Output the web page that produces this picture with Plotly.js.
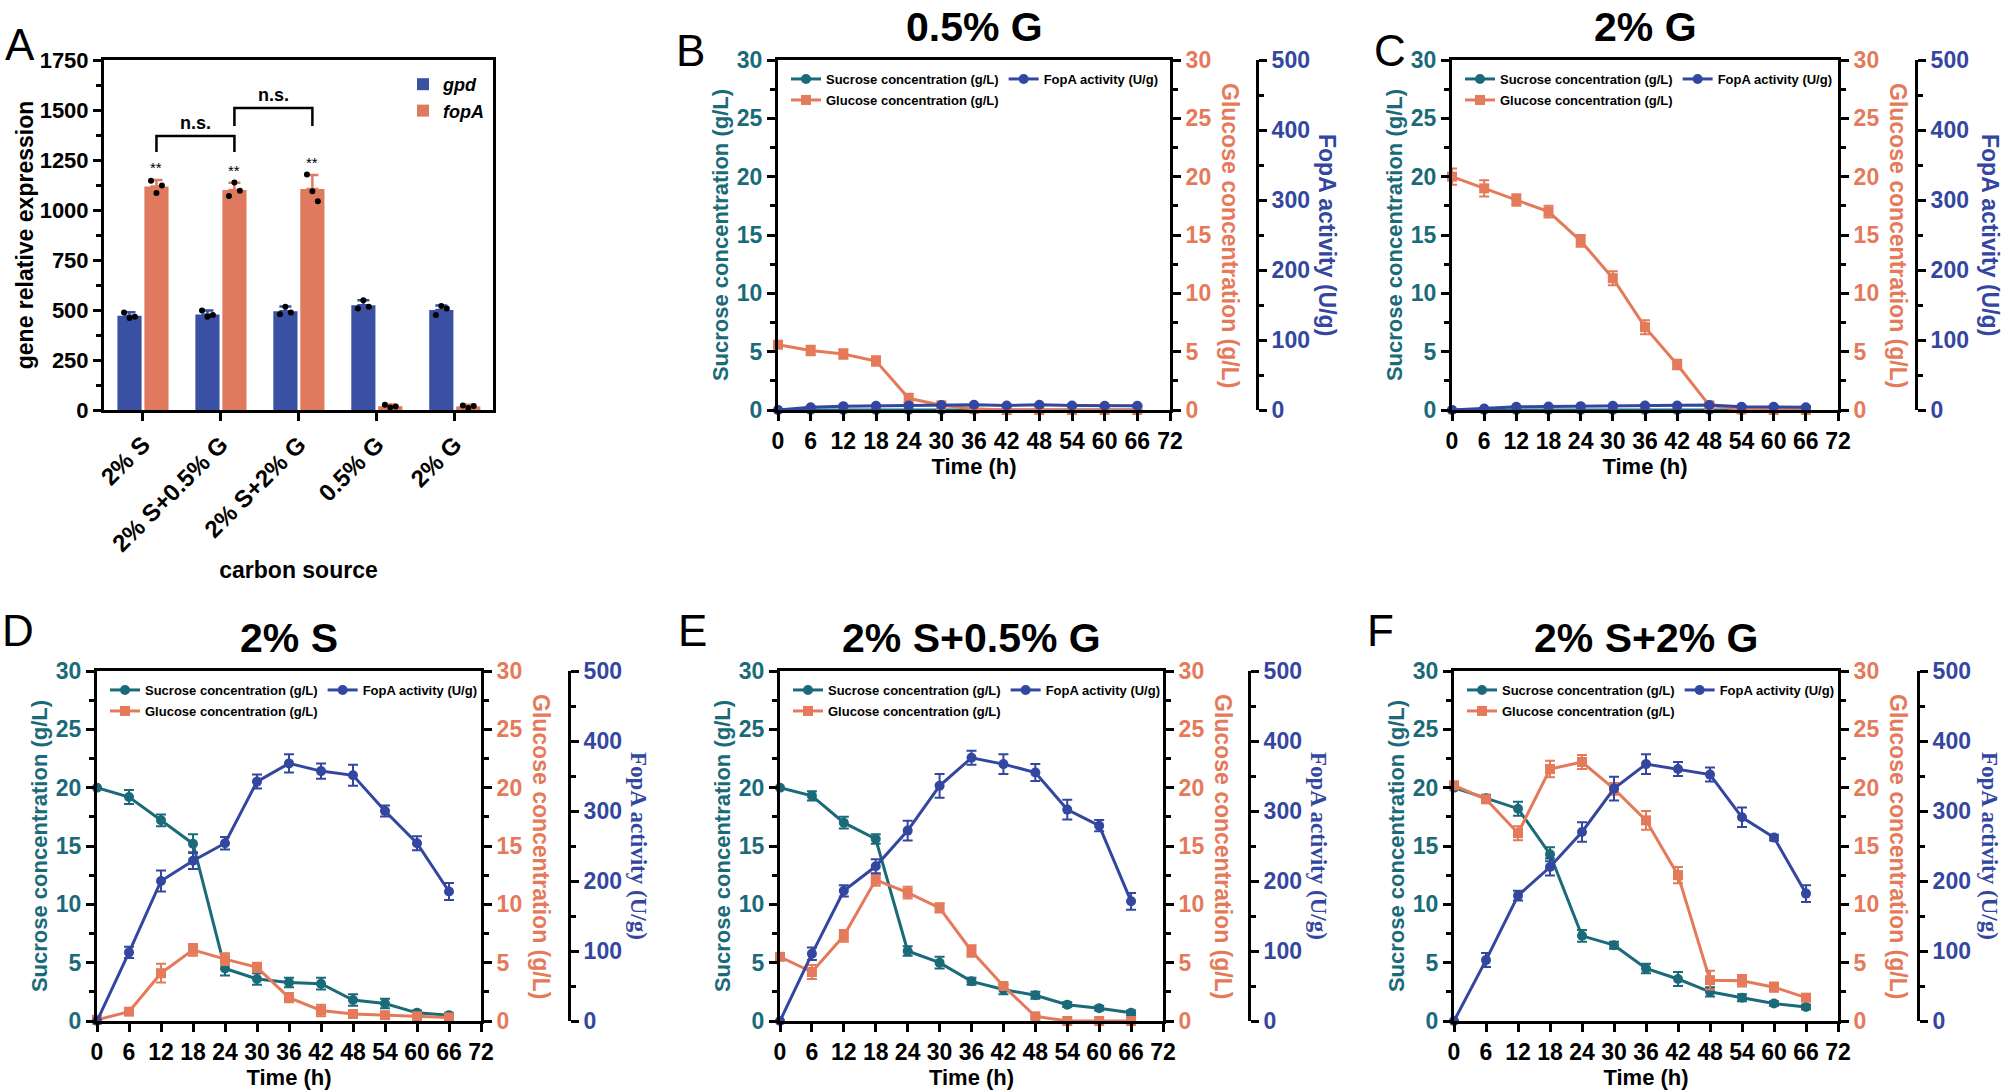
<!DOCTYPE html>
<html>
<head>
<meta charset="utf-8">
<script src="https://cdn.plot.ly/plotly-3.0.1.min.js"></script>
<style>
html, body { margin: 0; padding: 0; background: #ffffff; }
#fig { width: 2007px; height: 1091px; }
</style>
</head>
<body>
<div id="fig"></div>
<script>
// ===================== DATA =====================
// Panel A: gene relative expression by carbon source
const carbonSources = ['2% S', '2% S+0.5% G', '2% S+2% G', '0.5% G', '2% G'];
const gpdMean = [471, 478, 494, 524, 500];
const gpdSD = [18, 20, 23, 25, 22];
const fopAMean = [1118, 1100, 1105, 19, 18];
const fopASD = [32, 36, 70, 8, 8];
const gpdReplicates = [[488, 460, 466], [497, 466, 475], [479, 516, 488], [508, 549, 516], [475, 520, 507]];
const fopAReplicates = [[1146, 1085, 1122], [1070, 1137, 1096], [1177, 1094, 1044], [26, 13, 18], [23, 10, 20]];
const significanceLabels = ['**', '**', '**', '', ''];
const nsPairs = [[0, 1], [1, 2]];
const nsBracketTop = [1370, 1510];
const nsBracketBottom = [1290, 1420];

// Time course panels
const timeH = [0, 6, 12, 18, 24, 30, 36, 42, 48, 54, 60, 66];
const timeTicks = [0, 6, 12, 18, 24, 30, 36, 42, 48, 54, 60, 66, 72];

// B: 0.5% G
const sucroseB = [0, 0, 0, 0, 0, 0, 0, 0, 0, 0, 0, 0];
const sucroseErrB = [0, 0, 0, 0, 0, 0, 0, 0, 0, 0, 0, 0];
const glucoseB = [5.6, 5.1, 4.8, 4.2, 1.0, 0.4, 0.1, 0, 0, 0, 0, 0];
const glucoseErrB = [0.2, 0.4, 0.4, 0.4, 0.4, 0.1, 0, 0, 0, 0, 0, 0];
const fopAB = [0, 4, 5.5, 6, 6.5, 7, 7.5, 6.5, 7.5, 6.5, 6, 6];
const fopAErrB = [0, 1, 1, 1, 1, 1, 1, 1, 1, 1, 1, 1];

// C: 2% G
const sucroseC = [0, 0, 0, 0, 0, 0, 0, 0, 0, 0, 0, 0];
const sucroseErrC = [0, 0, 0, 0, 0, 0, 0, 0, 0, 0, 0, 0];
const glucoseC = [20.0, 19.0, 18.0, 17.0, 14.5, 11.3, 7.1, 3.9, 0.4, 0.05, 0, 0];
const glucoseErrC = [0.7, 0.7, 0.5, 0.5, 0.5, 0.6, 0.6, 0.4, 0.2, 0, 0, 0];
const fopAC = [0, 2, 4.5, 5, 5.5, 6, 6.5, 6.5, 7, 4.5, 4.5, 4];
const fopAErrC = [0, 1, 1, 1, 1, 1, 1, 1, 1, 1, 1, 1];

// D: 2% S
const sucroseD = [20.0, 19.2, 17.2, 15.2, 4.5, 3.6, 3.3, 3.2, 1.8, 1.5, 0.7, 0.5];
const sucroseErrD = [0, 0.6, 0.5, 0.8, 0.6, 0.5, 0.4, 0.5, 0.5, 0.4, 0.2, 0.2];
const glucoseD = [0.1, 0.8, 4.1, 6.1, 5.3, 4.6, 2.0, 0.9, 0.6, 0.5, 0.4, 0.3];
const glucoseErrD = [0.1, 0.1, 0.8, 0.5, 0.5, 0.4, 0.4, 0.5, 0.2, 0.1, 0.1, 0.1];
const fopAD = [0, 98, 200, 229, 254, 342, 368, 357, 351, 300, 254, 185];
const fopAErrD = [0, 8, 15, 12, 9, 10, 13, 11, 15, 8, 10, 12];

// E: 2% S+0.5% G
const sucroseE = [20.0, 19.3, 17.0, 15.6, 6.0, 5.0, 3.4, 2.7, 2.2, 1.4, 1.1, 0.7];
const sucroseErrE = [0, 0.4, 0.5, 0.4, 0.4, 0.5, 0.3, 0.4, 0.3, 0.2, 0.2, 0.2];
const glucoseE = [5.5, 4.2, 7.3, 12.1, 11.0, 9.7, 6.0, 3.0, 0.4, 0, 0, 0];
const glucoseErrE = [0.2, 0.6, 0.5, 0.5, 0.5, 0.4, 0.5, 0.2, 0.1, 0.1, 0.1, 0.1];
const fopAE = [0, 96, 186, 221, 272, 336, 376, 367, 355, 302, 279, 171];
const fopAErrE = [0, 9, 8, 10, 14, 17, 10, 14, 12, 14, 8, 12];

// F: 2% S+2% G
const sucroseF = [20.0, 19.1, 18.2, 14.3, 7.3, 6.5, 4.5, 3.6, 2.5, 2.0, 1.5, 1.2];
const sucroseErrF = [0, 0.3, 0.6, 0.6, 0.5, 0.3, 0.4, 0.6, 0.4, 0.3, 0.2, 0.2];
const glucoseF = [20.2, 19.0, 16.1, 21.6, 22.2, 19.9, 17.2, 12.5, 3.5, 3.45, 2.9, 2.0];
const glucoseErrF = [0.3, 0.3, 0.6, 0.7, 0.6, 0.5, 0.8, 0.7, 0.8, 0.5, 0.4, 0.3];
const fopAF = [0, 87, 179, 220, 270, 332, 367, 360, 352, 291, 262, 182];
const fopAErrF = [0, 10, 7, 12, 14, 17, 14, 10, 10, 14, 4, 12];

// ===================== STYLE / LAYOUT =====================
const W = 2007, H = 1091;
const fx = v => v / W;
const fy = v => 1 - v / H;
const C_SUC = '#1b6a7a', C_GLU = '#e57a5a', C_FOP = '#3346a0';
const C_GPD = '#3a51a3', C_FOPA = '#e07a5e';
const FONT = 'Arial, "Liberation Sans", Helvetica, sans-serif';
const SERIF = '"Times New Roman", "Liberation Serif", serif';

const data = [];
const layout = {
  width: W, height: H,
  margin: {l: 0, r: 0, t: 0, b: 0},
  paper_bgcolor: '#ffffff', plot_bgcolor: 'rgba(0,0,0,0)',
  font: {family: FONT, color: '#000000'},
  showlegend: true,
  annotations: [], shapes: []
};
const axBase = {
  ticks: 'outside', ticklen: 8, tickwidth: 3, tickcolor: '#000',
  showline: true, linewidth: 3, linecolor: '#000',
  showgrid: false, zeroline: false, fixedrange: true
};
function letter(t, x, y) {
  layout.annotations.push({xref: 'paper', yref: 'paper', x: fx(x), y: fy(y), text: t, showarrow: false,
    xanchor: 'center', yanchor: 'middle', font: {size: 44, family: FONT, color: '#000'}});
}

// ---------- Panel A ----------
const A = {x0: 104, x1: 493, top: 60, bot: 410};
const barOff = 0.173, barW = 0.31, jitter = [-0.07, 0, 0.07];
const catIdx = carbonSources.map((_, i) => i);
data.push({
  type: 'bar', name: 'gpd', x: catIdx.map(i => i - barOff), y: gpdMean, width: barW,
  marker: {color: C_GPD}, xaxis: 'x', yaxis: 'y', legend: 'legend',
  error_y: {type: 'data', symmetric: false, array: gpdSD, arrayminus: gpdSD.map(() => 0), color: C_GPD, thickness: 2.5, width: 6}
});
data.push({
  type: 'bar', name: 'fopA', x: catIdx.map(i => i + barOff), y: fopAMean, width: barW,
  marker: {color: C_FOPA}, xaxis: 'x', yaxis: 'y', legend: 'legend',
  error_y: {type: 'data', symmetric: false, array: fopASD, arrayminus: fopASD.map(() => 0), color: C_FOPA, thickness: 2.5, width: 6}
});
const dotX = [], dotY = [];
catIdx.forEach(i => {
  gpdReplicates[i].forEach((v, k) => { dotX.push(i - barOff + jitter[k]); dotY.push(v); });
  fopAReplicates[i].forEach((v, k) => { dotX.push(i + barOff + jitter[k]); dotY.push(v); });
});
data.push({type: 'scatter', mode: 'markers', x: dotX, y: dotY, xaxis: 'x', yaxis: 'y', showlegend: false,
  cliponaxis: false, marker: {color: '#000', size: 6}, hoverinfo: 'skip'});

layout.xaxis = Object.assign({}, axBase, {
  domain: [fx(A.x0), fx(A.x1)], anchor: 'y', range: [-0.5, 4.49], mirror: true,
  tickvals: catIdx, ticktext: carbonSources, tickangle: -45,
  tickfont: {size: 24, family: FONT, weight: 'bold', color: '#000'},
  title: {text: 'carbon source', font: {size: 23, family: FONT, weight: 'bold'}, standoff: 6}
});
layout.yaxis = Object.assign({}, axBase, {
  domain: [fy(A.bot), fy(A.top)], anchor: 'x', range: [0, 1750], dtick: 250, tick0: 0, mirror: true,
  minor: {dtick: 125, ticks: 'outside', ticklen: 5, tickwidth: 3, tickcolor: '#000'},
  tickfont: {size: 22, family: FONT, weight: 'bold', color: '#000'},
  title: {text: 'gene relative expression', font: {size: 23, family: FONT, weight: 'bold'}, standoff: 0}
});
layout.legend = {x: fx(403), y: fy(66), xanchor: 'left', yanchor: 'top', orientation: 'v',
  bgcolor: 'rgba(0,0,0,0)', itemwidth: 30, tracegroupgap: 2,
  font: {size: 18, family: FONT, weight: 'bold', style: 'italic', color: '#000'}};

// significance stars
catIdx.forEach(i => {
  if (significanceLabels[i]) {
    layout.annotations.push({xref: 'x', yref: 'y', x: i + barOff, y: fopAMean[i] + fopASD[i],
      text: significanceLabels[i], showarrow: false, yanchor: 'bottom', yshift: 2,
      font: {size: 15, family: FONT, color: '#000'}});
  }
});
nsPairs.forEach((pr, k) => {
  const xa = pr[0] + barOff, xb = pr[1] + barOff;
  layout.shapes.push({type: 'path', xref: 'x', yref: 'y',
    path: `M${xa},${nsBracketBottom[k]} L${xa},${nsBracketTop[k]} L${xb},${nsBracketTop[k]} L${xb},${nsBracketBottom[k]}`,
    line: {color: '#000', width: 2.5}});
  layout.annotations.push({xref: 'x', yref: 'y', x: (xa + xb) / 2, y: nsBracketTop[k], text: 'n.s.',
    showarrow: false, yanchor: 'bottom', yshift: 1, font: {size: 18, family: FONT, weight: 'bold', color: '#000'}});
});
letter('A', 20, 45);

// ---------- Time course panels ----------
const linePanels = [
  {L: 'B', title: '0.5% G', x0: 778, x1: 1170, x3: 1257, top: 60, bot: 410, serif: false, lx: 690, ly: 50, fopDx: 70,
   suc: sucroseB, sucE: sucroseErrB, glu: glucoseB, gluE: glucoseErrB, fop: fopAB, fopE: fopAErrB},
  {L: 'C', title: '2% G', x0: 1452, x1: 1838, x3: 1916, top: 60, bot: 410, serif: false, lx: 1390, ly: 50, fopDx: 74,
   suc: sucroseC, sucE: sucroseErrC, glu: glucoseC, gluE: glucoseErrC, fop: fopAC, fopE: fopAErrC},
  {L: 'D', title: '2% S', x0: 97, x1: 481, x3: 569, top: 671, bot: 1021, serif: true, lx: 18, ly: 630, fopDx: 70,
   suc: sucroseD, sucE: sucroseErrD, glu: glucoseD, gluE: glucoseErrD, fop: fopAD, fopE: fopAErrD},
  {L: 'E', title: '2% S+0.5% G', x0: 780, x1: 1163, x3: 1249, top: 671, bot: 1021, serif: true, lx: 692, ly: 630, fopDx: 70,
   suc: sucroseE, sucE: sucroseErrE, glu: glucoseE, gluE: glucoseErrE, fop: fopAE, fopE: fopAErrE},
  {L: 'F', title: '2% S+2% G', x0: 1454, x1: 1838, x3: 1918, top: 671, bot: 1021, serif: true, lx: 1380, ly: 630, fopDx: 72,
   suc: sucroseF, sucE: sucroseErrF, glu: glucoseF, gluE: glucoseErrF, fop: fopAF, fopE: fopAErrF}
];

linePanels.forEach((p, j) => {
  const xi = j + 2;
  const ys = 2 + 3 * j, yg = 3 + 3 * j, yf = 4 + 3 * j;
  const leg1 = 'legend' + (2 + 2 * j), leg2 = 'legend' + (3 + 2 * j);
  const errStyle = (arr, c) => ({type: 'data', array: arr, color: c, thickness: 2, width: 5});

  data.push({type: 'scatter', mode: 'lines+markers', name: 'Sucrose concentration (g/L)', x: timeH, y: p.suc,
    xaxis: 'x' + xi, yaxis: 'y' + ys, legend: leg1, cliponaxis: false,
    line: {color: C_SUC, width: 3}, marker: {symbol: 'circle', size: 10, color: C_SUC},
    error_y: errStyle(p.sucE, C_SUC)});
  data.push({type: 'scatter', mode: 'lines+markers', name: 'Glucose concentration (g/L)', x: timeH, y: p.glu,
    xaxis: 'x' + xi, yaxis: 'y' + yg, legend: leg2, cliponaxis: false,
    line: {color: C_GLU, width: 3}, marker: {symbol: 'square', size: 10, color: C_GLU},
    error_y: errStyle(p.gluE, C_GLU)});
  data.push({type: 'scatter', mode: 'lines+markers', name: 'FopA activity (U/g)', x: timeH, y: p.fop,
    xaxis: 'x' + xi, yaxis: 'y' + yf, legend: leg1, cliponaxis: false,
    line: {color: C_FOP, width: 3}, marker: {symbol: 'circle', size: 10, color: C_FOP},
    error_y: errStyle(p.fopE, C_FOP)});

  layout['xaxis' + xi] = Object.assign({}, axBase, {
    domain: [fx(p.x0), fx(p.x1)], anchor: 'y' + ys, range: [0, 72], mirror: true,
    tickvals: timeTicks, tickfont: {size: 23, family: FONT, weight: 'bold', color: '#000'},
    title: {text: 'Time (h)', font: {size: 22, family: FONT, weight: 'bold'}, standoff: 7}
  });
  layout['yaxis' + ys] = Object.assign({}, axBase, {
    domain: [fy(p.bot), fy(p.top)], anchor: 'x' + xi, range: [0, 30], dtick: 5, tick0: 0, side: 'left',
    minor: {dtick: 2.5, ticks: 'outside', ticklen: 5, tickwidth: 3, tickcolor: '#000'},
    tickfont: {size: 23, family: FONT, weight: 'bold', color: C_SUC},
    title: {text: 'Sucrose concentration (g/L)', font: {size: 22, family: FONT, weight: 'bold', color: C_SUC}, standoff: 3}
  });
  layout['yaxis' + yg] = Object.assign({}, axBase, {
    overlaying: 'y' + ys, anchor: 'x' + xi, side: 'right', range: [0, 30], dtick: 5, tick0: 0,
    minor: {dtick: 2.5, ticks: 'outside', ticklen: 5, tickwidth: 3, tickcolor: '#000'},
    tickfont: {size: 23, family: FONT, weight: 'bold', color: C_GLU}
  });
  layout['yaxis' + yf] = Object.assign({}, axBase, {
    overlaying: 'y' + ys, anchor: 'free', position: fx(p.x3), side: 'right', range: [0, 500], dtick: 100, tick0: 0,
    minor: {dtick: 50, ticks: 'outside', ticklen: 5, tickwidth: 3, tickcolor: '#000'},
    tickfont: {size: 23, family: FONT, weight: 'bold', color: C_FOP}
  });

  const legBase = {xanchor: 'left', yanchor: 'top', orientation: 'h', bgcolor: 'rgba(0,0,0,0)',
    itemwidth: 30, font: {size: 13, family: FONT, weight: 'bold', color: '#000'}};
  layout[leg1] = Object.assign({}, legBase, {x: fx(p.x0 + 8), y: fy(p.top + 4)});
  layout[leg2] = Object.assign({}, legBase, {x: fx(p.x0 + 8), y: fy(p.top + 25)});

  const midY = fy((p.top + p.bot) / 2);
  layout.annotations.push({xref: 'paper', yref: 'paper', x: fx(p.x1 + 60), y: midY, text: 'Glucose concentration (g/L)',
    textangle: 90, showarrow: false, xanchor: 'center', yanchor: 'middle',
    font: {size: 23, family: FONT, weight: 'bold', color: C_GLU}});
  layout.annotations.push({xref: 'paper', yref: 'paper', x: fx(p.x3 + p.fopDx), y: midY, text: 'FopA activity (U/g)',
    textangle: 90, showarrow: false, xanchor: 'center', yanchor: 'middle',
    font: {size: 23, family: p.serif ? SERIF : FONT, weight: 'bold', color: C_FOP}});
  layout.annotations.push({xref: 'paper', yref: 'paper', x: fx((p.x0 + p.x1) / 2), y: fy(p.top - 33), text: p.title,
    showarrow: false, xanchor: 'center', yanchor: 'middle', font: {size: 41, family: FONT, weight: 'bold', color: '#000'}});
  letter(p.L, p.lx, p.ly);
});

Plotly.newPlot('fig', data, layout, {displayModeBar: false, staticPlot: true});
</script>
</body>
</html>
